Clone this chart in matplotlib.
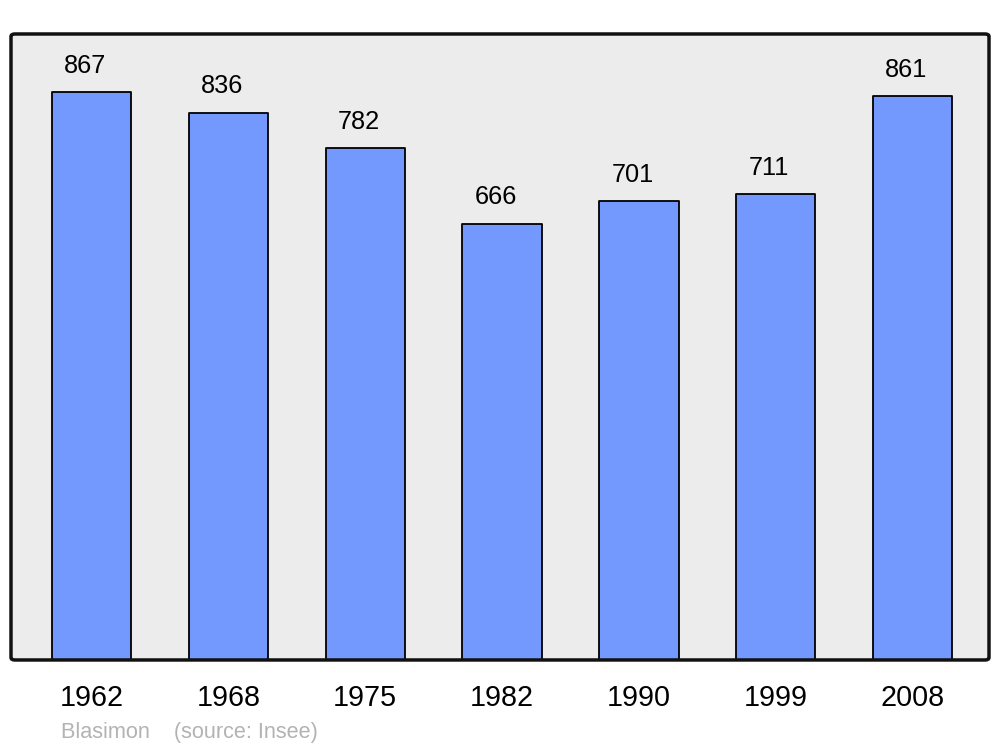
import matplotlib.pyplot as plt
from matplotlib.patches import FancyBboxPatch

plt.rcParams['font.family'] = ['Liberation Sans', 'DejaVu Sans']

years = ['1962', '1968', '1975', '1982', '1990', '1999', '2008']
population = [867, 836, 782, 666, 701, 711, 861]
commune = 'Blasimon'
source = '(source: Insee)'

fig = plt.figure(figsize=(10, 7.47), dpi=100)
ax = fig.add_axes([0.011, 0.1165, 0.978, 0.838])
ax.set_facecolor('#ececec')

x = range(len(years))
bars = ax.bar(x, population, width=0.58, color='#7399ff', edgecolor='black',
              linewidth=1.3, zorder=2)
for b in bars:
    b.set_joinstyle('round')

for xi, v in zip(x, population):
    ax.annotate(str(v), (xi, v), xytext=(-4.5, 19), textcoords='offset points',
                ha='center', va='center', fontsize=18.3)

ax.set_xlim(-0.59, 6.56)
ax.set_ylim(0, 956)
ax.set_xticks(list(x))
ax.set_xticklabels(years, fontsize=20.7)
ax.tick_params(axis='x', length=0, pad=17)
ax.set_yticks([])

for s in ax.spines.values():
    s.set_visible(False)
frame = FancyBboxPatch((0, 0), 1, 1, boxstyle='round,pad=0,rounding_size=0.004',
                       transform=ax.transAxes, fill=False, edgecolor='#111111',
                       linewidth=2.5, zorder=5, clip_on=False)
ax.add_patch(frame)

fig.text(0.061, 0.019, commune + '    ' + source, fontsize=15.6, color='#b3b3b3',
         ha='left', va='center')

fig.savefig('out.png', dpi=100, facecolor='white')
